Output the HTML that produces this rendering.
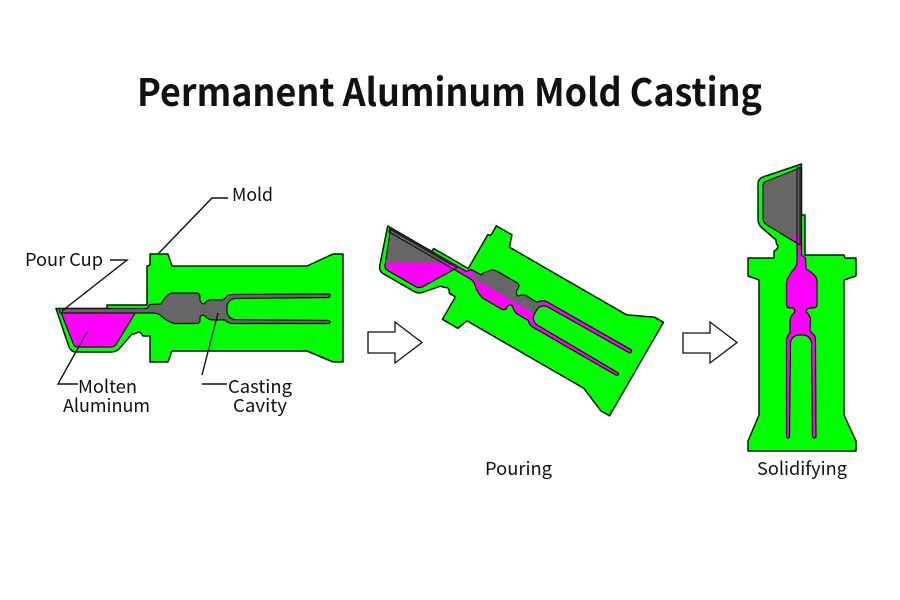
<!DOCTYPE html>
<html>
<head>
<meta charset="utf-8">
<style>
  html,body{margin:0;padding:0;background:#fff;}
  svg{display:block;}
  text{font-family:"Noto Sans CJK JP","Liberation Sans",sans-serif;fill:#111;}
</style>
</head>
<body>
<svg width="900" height="600" viewBox="0 0 900 600" xmlns="http://www.w3.org/2000/svg">
  <defs>
    <clipPath id="clip2" clipPathUnits="userSpaceOnUse">
      <polygon points="20,371.7 150,296.6 155,311 227,311 227,270 345,270 345,400 20,400"/>
    </clipPath>
    <clipPath id="clip3" clipPathUnits="userSpaceOnUse">
      <polygon points="129,250 345,250 345,400 129,400"/>
    </clipPath>
  </defs>
  <rect width="900" height="600" fill="#fff"/>

  <!-- Title -->
  <text x="137" y="106" font-size="38" font-weight="700" textLength="625" lengthAdjust="spacingAndGlyphs">Permanent Aluminum Mold Casting</text>

  <!-- ===== Diagram 1 ===== -->
  <g>
    <path d="M56,308.5 L107,308.5 L107,305 L147,305 L147,266 L150,265 L150,254 L168,254 L172,266 L307,266 L333,254 L343,254 L343,362 L333,362 L307,351 L172,351 L168,362 L150,362 L150,336 L143,336 Q141,332 138,332 Q136,334 132,334 L119,349 Q116,352 111,352 L76,352 Q71,352 69,347 Z" fill="#00ff00" stroke="#111" stroke-width="1.5" stroke-linejoin="round"/>
    <path d="M60,310 L137,310 L117,343 Q115,347 110,347 L78,347 Q74,347 73,343 Z" fill="#ff00ff" stroke="#111" stroke-width="1.2"/>
    <path d="M59,308.5 L147,308.5 L150,304.5 L161,304 Q164,298 169,294 Q171,293 175,293 L196,293 Q200,293 200,297 L200,300 Q201,304 204,304 Q207,300 211,299.5 L221,300 Q224,300 227,296 Q229,294.5 233,294.5 L329,294 Q331,295.5 329,297.5 L234,298.5 Q228,300 227,306 L227,312 Q228,318 234,319.5 L329,320.5 Q331,322 329,323.5 L233,323.5 Q228,323.5 225,320 L214,320 Q208,320 205,316 Q202,314 200,317 L200,320 Q200,323.5 196,323.5 L174,323.5 Q166,321 160,315 Q157,313 152,313 L60,313 Z" fill="#666" stroke="#111" stroke-width="1.2" stroke-linejoin="round"/>
  </g>

  <!-- Leaders diagram 1 -->
  <g fill="none" stroke="#111" stroke-width="1.4">
    <polyline points="228,198 212,198 158,254"/>
    <polyline points="110,260 127,260 62,311"/>
    <polyline points="78,384 58,384 87,332"/>
    <line x1="202" y1="384" x2="227" y2="384"/>
    <line x1="202" y1="375" x2="218" y2="313"/>
  </g>
  <text x="232" y="201" font-size="18" textLength="41" lengthAdjust="spacingAndGlyphs">Mold</text>
  <text x="25" y="266" font-size="18" textLength="78" lengthAdjust="spacingAndGlyphs">Pour Cup</text>
  <text x="78" y="393" font-size="18" textLength="59" lengthAdjust="spacingAndGlyphs">Molten</text>
  <text x="63" y="412" font-size="18" textLength="87" lengthAdjust="spacingAndGlyphs">Aluminum</text>
  <text x="228" y="393" font-size="18" textLength="64" lengthAdjust="spacingAndGlyphs">Casting</text>
  <text x="233" y="412" font-size="18" textLength="54" lengthAdjust="spacingAndGlyphs">Cavity</text>

  <!-- Arrows -->
  <path d="M368,332 L395,332 L395,322 L422,342.5 L395,363 L395,353 L368,353 Z" fill="#fff" stroke="#111" stroke-width="1.3" stroke-linejoin="miter"/>
  <path d="M683,333 L710,333 L710,322 L737,342.5 L710,363 L710,353 L683,353 Z" fill="#fff" stroke="#111" stroke-width="1.3" stroke-linejoin="miter"/>

  <!-- ===== Diagram 2 (Pouring) ===== -->
  <g transform="translate(625,363) rotate(30) translate(-330,-308.5)">
    <path d="M56,308.5 L107,308.5 L107,305 L147,305 L147,266 L150,265 L150,254 L168,254 L172,266 L307,266 L333,254 L343,254 L343,362 L333,362 L307,351 L172,351 L168,362 L150,362 L150,336 L143,336 Q141,332 138,332 Q136,334 132,334 L119,349 Q116,352 111,352 L76,352 Q71,352 69,347 Z" fill="#00ff00" stroke="#111" stroke-width="1.5" stroke-linejoin="round"/>
    <path d="M60,310 L137,310 L117,343 Q115,347 110,347 L78,347 Q74,347 73,343 Z" fill="#666"/>
    <path d="M59,308.5 L147,308.5 L150,304.5 L161,304 Q164,298 169,294 Q171,293 175,293 L196,293 Q200,293 200,297 L200,300 Q201,304 204,304 Q207,300 211,299.5 L221,300 Q224,300 227,296 Q229,294.5 233,294.5 L329,294 Q331,295.5 329,297.5 L234,298.5 Q228,300 227,306 L227,312 Q228,318 234,319.5 L329,320.5 Q331,322 329,323.5 L233,323.5 Q228,323.5 225,320 L214,320 Q208,320 205,316 Q202,314 200,317 L200,320 Q200,323.5 196,323.5 L174,323.5 Q166,321 160,315 Q157,313 152,313 L60,313 Z" fill="#666"/>
    <g clip-path="url(#clip2)">
      <path d="M60,310 L137,310 L117,343 Q115,347 110,347 L78,347 Q74,347 73,343 Z" fill="#ff00ff"/>
      <path d="M59,308.5 L147,308.5 L150,304.5 L161,304 Q164,298 169,294 Q171,293 175,293 L196,293 Q200,293 200,297 L200,300 Q201,304 204,304 Q207,300 211,299.5 L221,300 Q224,300 227,296 Q229,294.5 233,294.5 L329,294 Q331,295.5 329,297.5 L234,298.5 Q228,300 227,306 L227,312 Q228,318 234,319.5 L329,320.5 Q331,322 329,323.5 L233,323.5 Q228,323.5 225,320 L214,320 Q208,320 205,316 Q202,314 200,317 L200,320 Q200,323.5 196,323.5 L174,323.5 Q166,321 160,315 Q157,313 152,313 L60,313 Z" fill="#ff00ff"/>
    </g>
    <path d="M60,310 L137,310 L117,343 Q115,347 110,347 L78,347 Q74,347 73,343 Z" fill="none" stroke="#111" stroke-width="1.2"/>
    <path d="M59,308.5 L147,308.5 L150,304.5 L161,304 Q164,298 169,294 Q171,293 175,293 L196,293 Q200,293 200,297 L200,300 Q201,304 204,304 Q207,300 211,299.5 L221,300 Q224,300 227,296 Q229,294.5 233,294.5 L329,294 Q331,295.5 329,297.5 L234,298.5 Q228,300 227,306 L227,312 Q228,318 234,319.5 L329,320.5 Q331,322 329,323.5 L233,323.5 Q228,323.5 225,320 L214,320 Q208,320 205,316 Q202,314 200,317 L200,320 Q200,323.5 196,323.5 L174,323.5 Q166,321 160,315 Q157,313 152,313 L60,313 Z" fill="none" stroke="#111" stroke-width="1.2" stroke-linejoin="round"/>
  </g>
  <text x="485" y="475" font-size="18" textLength="67" lengthAdjust="spacingAndGlyphs">Pouring</text>

  <!-- ===== Diagram 3 (Solidifying) ===== -->
  <g transform="translate(801.5,438) rotate(90) translate(-330,-308.5)">
    <path d="M56,308.5 L107,308.5 L107,305 L147,305 L147,266 L150,265 L150,254 L168,254 L172,266 L307,266 L333,254 L343,254 L343,362 L333,362 L307,351 L172,351 L168,362 L150,362 L150,336 L143,336 Q141,332 138,332 Q136,334 132,334 L119,349 Q116,352 111,352 L76,352 Q71,352 69,347 Z" fill="#00ff00" stroke="#111" stroke-width="1.5" stroke-linejoin="round"/>
    <path d="M60,310 L137,310 L117,343 Q115,347 110,347 L78,347 Q74,347 73,343 Z" fill="#666"/>
    <path d="M59,308.5 L147,308.5 L150,304.5 L161,304 Q164,298 169,294 Q171,293 175,293 L196,293 Q200,293 200,297 L200,300 Q201,304 204,304 Q207,300 211,299.5 L221,300 Q224,300 227,296 Q229,294.5 233,294.5 L329,294 Q331,295.5 329,297.5 L234,298.5 Q228,300 227,306 L227,312 Q228,318 234,319.5 L329,320.5 Q331,322 329,323.5 L233,323.5 Q228,323.5 225,320 L214,320 Q208,320 205,316 Q202,314 200,317 L200,320 Q200,323.5 196,323.5 L174,323.5 Q166,321 160,315 Q157,313 152,313 L60,313 Z" fill="#666"/>
    <g clip-path="url(#clip3)">
      <path d="M60,310 L137,310 L117,343 Q115,347 110,347 L78,347 Q74,347 73,343 Z" fill="#ff00ff"/>
      <path d="M59,308.5 L147,308.5 L150,304.5 L161,304 Q164,298 169,294 Q171,293 175,293 L196,293 Q200,293 200,297 L200,300 Q201,304 204,304 Q207,300 211,299.5 L221,300 Q224,300 227,296 Q229,294.5 233,294.5 L329,294 Q331,295.5 329,297.5 L234,298.5 Q228,300 227,306 L227,312 Q228,318 234,319.5 L329,320.5 Q331,322 329,323.5 L233,323.5 Q228,323.5 225,320 L214,320 Q208,320 205,316 Q202,314 200,317 L200,320 Q200,323.5 196,323.5 L174,323.5 Q166,321 160,315 Q157,313 152,313 L60,313 Z" fill="#ff00ff"/>
    </g>
    <path d="M60,310 L137,310 L117,343 Q115,347 110,347 L78,347 Q74,347 73,343 Z" fill="none" stroke="#111" stroke-width="1.2"/>
    <path d="M59,308.5 L147,308.5 L150,304.5 L161,304 Q164,298 169,294 Q171,293 175,293 L196,293 Q200,293 200,297 L200,300 Q201,304 204,304 Q207,300 211,299.5 L221,300 Q224,300 227,296 Q229,294.5 233,294.5 L329,294 Q331,295.5 329,297.5 L234,298.5 Q228,300 227,306 L227,312 Q228,318 234,319.5 L329,320.5 Q331,322 329,323.5 L233,323.5 Q228,323.5 225,320 L214,320 Q208,320 205,316 Q202,314 200,317 L200,320 Q200,323.5 196,323.5 L174,323.5 Q166,321 160,315 Q157,313 152,313 L60,313 Z" fill="none" stroke="#111" stroke-width="1.2" stroke-linejoin="round"/>
  </g>
  <text x="757" y="475" font-size="18" textLength="90" lengthAdjust="spacingAndGlyphs">Solidifying</text>
</svg>
</body>
</html>
